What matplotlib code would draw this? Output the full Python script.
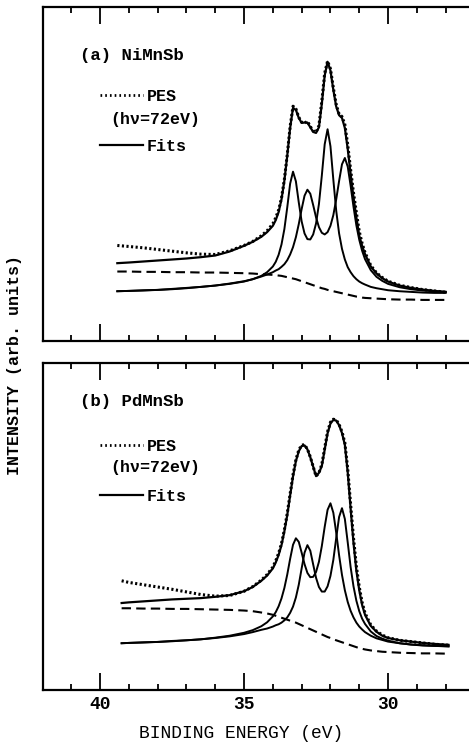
import numpy as np
import matplotlib
matplotlib.use('Agg')
import matplotlib.pyplot as plt
from matplotlib.lines import Line2D

plt.rcParams['font.family'] = ['Liberation Mono', 'DejaVu Sans Mono']
plt.rcParams['font.weight'] = 'bold'

# binding energy grid (eV), denser through the Sb 4d region
energy_a = [39.4, 39.0, 38.5, 38.0, 37.5, 37.0, 36.5, 36.0, 35.5, 35.0,
            34.7, 34.4, 34.2,
            34.0, 33.9, 33.8, 33.7, 33.6, 33.5, 33.4, 33.3, 33.2, 33.1,
            33.0, 32.9, 32.8, 32.7, 32.6, 32.5, 32.4, 32.3, 32.2, 32.1,
            32.0, 31.9, 31.8, 31.7, 31.6, 31.5, 31.4, 31.3, 31.2, 31.1,
            31.0, 30.9, 30.8,
            30.6, 30.4, 30.2, 30.0,
            29.6, 29.2, 28.8, 28.4, 28.0]
energy_b = [39.25] + energy_a[1:-1] + [27.9]

# (a) NiMnSb
pes_a = [28.6, 28.3, 27.9, 27.4, 26.9, 26.4, 26.0, 25.9, 27.0, 28.6,
         29.8, 31.5, 33.0,
         35.1, 36.9, 39.2, 42.8, 48.4, 55.8, 64.2, 70.3, 69.5, 67.0,
         65.5, 65.2, 65.8, 64.2, 62.9, 62.5, 64.5, 71.8, 80.2, 83.8,
         81.5, 75.8, 70.8, 67.9, 67.2, 64.8, 58.7, 51.3, 44.4, 38.4,
         32.8, 29.2, 26.5,
         22.6, 20.4, 19.0, 17.9,
         16.7, 16.0, 15.4, 15.0, 14.6]
fit_a = [23.3, 23.5, 23.8, 24.1, 24.4, 24.7, 25.1, 25.6, 26.8, 28.5,
         29.7, 31.2, 32.6,
         34.5, 36.2, 38.6, 42.4, 48.0, 55.5, 63.8, 69.8, 69.2, 66.8,
         65.3, 65.4, 65.4, 64.0, 62.6, 62.3, 64.0, 71.0, 79.5, 83.6,
         81.0, 75.2, 70.2, 67.6, 66.8, 63.8, 57.5, 50.0, 43.0, 37.0,
         31.5, 28.5, 26.0,
         22.3, 20.2, 18.8, 17.8,
         16.6, 15.9, 15.4, 15.0, 14.7]
comp1_a = [14.9, 15.0, 15.1, 15.3, 15.5, 15.8, 16.2, 16.6, 17.1, 17.8,
           18.5, 19.5, 20.6,
           22.3, 23.7, 25.8, 28.9, 33.5, 40.0, 47.1, 50.7, 47.8, 41.5,
           35.8, 32.2, 30.5, 30.4, 31.9, 35.2, 41.0, 49.5, 58.9, 63.4,
           58.3, 48.3, 39.0, 32.2, 27.6, 24.4, 22.1, 20.6, 19.4, 18.5,
           17.8, 17.3, 16.9,
           16.2, 15.8, 15.5, 15.2,
           14.9, 14.7, 14.5, 14.4, 14.4]
comp2_a = [14.9, 15.0, 15.2, 15.3, 15.6, 15.9, 16.2, 16.6, 17.2, 17.9,
           18.5, 19.3, 19.9,
           20.6, 21.1, 21.5, 22.2, 23.0, 24.2, 25.9, 28.1, 31.1, 35.0,
           39.5, 43.5, 45.3, 44.1, 40.7, 37.0, 34.1, 32.4, 31.9, 32.6,
           34.5, 37.7, 42.4, 47.9, 52.9, 54.8, 52.2, 46.5, 40.2, 34.6,
           30.3, 27.0, 24.5,
           21.2, 19.2, 18.0, 17.1,
           16.1, 15.5, 15.1, 14.9, 14.7]
bkg_a = [20.8, 20.8, 20.7, 20.7, 20.6, 20.6, 20.5, 20.5, 20.4, 20.3,
         20.2, 20.0, 19.9,
         19.8, 19.7, 19.6, 19.5, 19.3, 19.1, 18.9, 18.7, 18.5, 18.2,
         17.9, 17.6, 17.3, 17.0, 16.7, 16.4, 16.1, 15.8, 15.6, 15.3,
         15.1, 14.9, 14.7, 14.5, 14.3, 14.1, 13.9, 13.7, 13.5, 13.3,
         13.2, 13.0, 12.9,
         12.8, 12.7, 12.6, 12.5,
         12.4, 12.4, 12.3, 12.3, 12.3]

# (b) PdMnSb
pes_b = [33.4, 32.9, 32.2, 31.5, 30.8, 30.0, 29.2, 28.7, 28.9, 30.2,
         31.6, 33.6, 35.3,
         37.6, 39.5, 41.8, 44.8, 49.0, 54.0, 60.0, 65.8, 70.4, 73.4,
         74.9, 75.0, 73.7, 71.3, 68.3, 65.4, 66.4, 69.0, 74.0, 79.0,
         81.9, 82.8, 82.6, 81.2, 79.0, 75.6, 67.5, 56.8, 46.5, 37.8,
         31.5, 26.8, 23.5,
         19.9, 18.0, 16.8, 16.0,
         15.2, 14.8, 14.4, 14.0, 13.7]
fit_b = [26.6, 26.8, 27.1, 27.4, 27.7, 27.9, 28.1, 28.5, 29.0, 30.2,
         31.5, 33.4, 35.0,
         37.2, 39.0, 41.3, 44.3, 48.5, 53.5, 59.5, 65.3, 70.0, 73.0,
         74.6, 74.8, 73.6, 71.2, 68.3, 65.4, 66.4, 68.5, 73.5, 78.5,
         81.5, 82.6, 82.4, 81.0, 78.6, 75.0, 66.5, 55.5, 45.0, 36.5,
         30.5, 26.0, 23.0,
         19.6, 17.8, 16.6, 15.9,
         15.2, 14.8, 14.4, 14.1, 13.8]
comp1_b = [14.3, 14.4, 14.6, 14.7, 15.0, 15.2, 15.5, 16.0, 16.6, 17.5,
           18.3, 19.5, 20.7,
           22.5, 23.8, 25.6, 28.0, 31.2, 35.3, 40.1, 44.4, 46.4, 45.3,
           42.0, 38.5, 35.8, 34.5, 34.6, 36.1, 39.2, 44.0, 49.9, 55.1,
           57.1, 54.2, 48.1, 41.2, 35.2, 30.5, 26.9, 24.2, 22.2, 20.6,
           19.4, 18.5, 17.7,
           16.6, 15.8, 15.3, 14.8,
           14.3, 13.9, 13.7, 13.5, 13.4]
comp2_b = [14.3, 14.4, 14.5, 14.7, 14.9, 15.2, 15.5, 15.9, 16.4, 17.1,
           17.7, 18.4, 18.8,
           19.4, 19.8, 20.1, 20.6, 21.3, 22.2, 23.6, 25.5, 28.3, 32.2,
           37.2, 42.0, 44.3, 42.6, 38.4, 34.3, 31.5, 30.1, 30.1, 31.7,
           34.9, 39.8, 46.5, 52.9, 55.6, 52.3, 45.1, 37.6, 31.7, 27.3,
           24.1, 21.8, 20.2,
           17.9, 16.5, 15.7, 15.1,
           14.3, 13.9, 13.6, 13.5, 13.3]
bkg_b = [25.0, 25.0, 24.9, 24.9, 24.8, 24.8, 24.7, 24.6, 24.5, 24.3,
         24.1, 23.7, 23.4,
         23.0, 22.7, 22.4, 22.1, 21.8, 21.5, 21.2, 20.9, 20.6, 20.2,
         19.8, 19.4, 19.0, 18.6, 18.2, 17.8, 17.4, 17.0, 16.6, 16.2,
         15.9, 15.5, 15.2, 14.9, 14.6, 14.3, 14.0, 13.7, 13.4, 13.1,
         12.8, 12.6, 12.4,
         12.1, 11.9, 11.7, 11.6,
         11.4, 11.3, 11.2, 11.2, 11.1]

major_ticks = [40, 35, 30]
minor_ticks = list(range(28, 42))

dotted = (0, (0.7, 0.8))
dashed = (0, (4.5, 2.5))


def draw_panel(ax, energy, pes, fit, comp1, comp2, bkg, title, key_y, hv_y):
    ax.plot(energy, comp1, color='k', lw=1.4)
    ax.plot(energy, comp2, color='k', lw=1.4)
    ax.plot(energy, bkg, color='k', lw=1.5, linestyle=dashed)
    ax.plot(energy, fit, color='k', lw=1.6)
    ax.plot(energy, pes, color='k', lw=2.2, linestyle=dotted)

    ax.set_xlim(41.98, 27.19)
    ax.set_ylim(0, 100)
    ax.set_yticks([])
    ax.set_xticks(major_ticks)
    ax.set_xticks(minor_ticks, minor=True)
    ax.tick_params(which='both', direction='in', top=True, bottom=True,
                   width=1.3, labelsize=13, pad=4)
    ax.tick_params(which='major', length=12)
    ax.tick_params(which='minor', length=4.5)
    ax.spines['right'].set_visible(False)
    for side in ['top', 'bottom', 'left']:
        ax.spines[side].set_linewidth(1.6)

    ax.text(0.087, title[1], title[0], transform=ax.transAxes,
            fontsize=12.5, va='center')

    handles = [Line2D([], [], color='k', lw=2.0, linestyle=(0, (0.6, 1.1))),
               Line2D([], [], color='k', lw=1.6)]
    ax.legend(handles, ['PES', 'Fits'], loc='upper left',
              bbox_to_anchor=(0.134, key_y), frameon=False, fontsize=12,
              handlelength=2.6, handletextpad=0.2, labelspacing=2.1,
              borderpad=0, borderaxespad=0)
    ax.text(0.157, hv_y, '(h\u03bd=72eV)', transform=ax.transAxes,
            fontsize=12, va='center')


fig = plt.figure(figsize=(4.69, 7.47), dpi=100)
ax_a = fig.add_axes([43 / 469, 406 / 747, 426 / 469, 334 / 747])
ax_b = fig.add_axes([43 / 469, 57 / 747, 426 / 469, 327 / 747])

draw_panel(ax_a, energy_a, pes_a, fit_a, comp1_a, comp2_a, bkg_a,
           ('(a) NiMnSb', 0.856), 0.754, 0.662)
draw_panel(ax_b, energy_b, pes_b, fit_b, comp1_b, comp2_b, bkg_b,
           ('(b) PdMnSb', 0.881), 0.768, 0.679)

ax_a.tick_params(labelbottom=False)
ax_b.set_xlabel('BINDING ENERGY (eV)', fontsize=13)
ax_b.xaxis.set_label_coords(0.465, -0.108)

fig.text(15 / 469, 1 - 365 / 747, 'INTENSITY (arb. units)', rotation=90,
         ha='center', va='center', fontsize=12)

fig.savefig('out.png', dpi=100)
